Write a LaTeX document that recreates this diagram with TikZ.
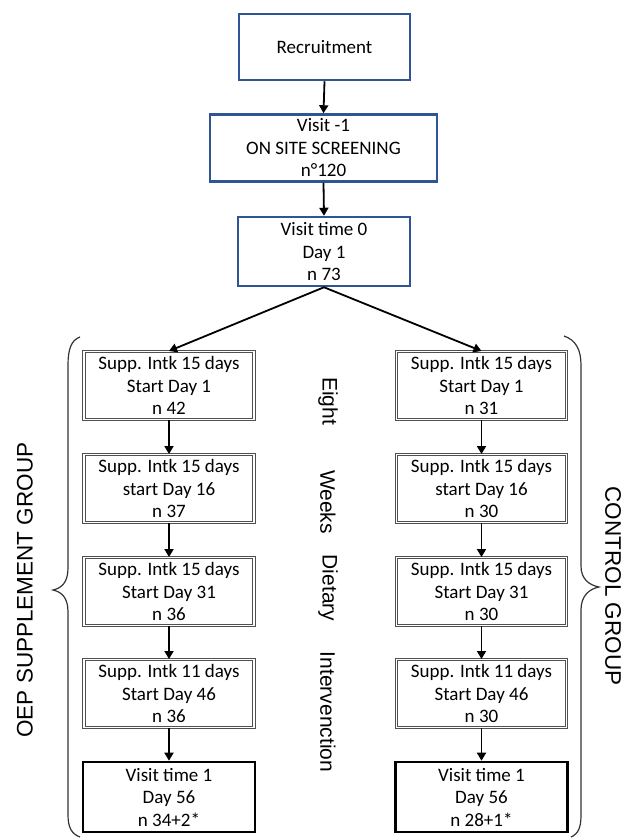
\documentclass[tikz,border=0pt]{standalone}
\usepackage{fontspec}
\setmainfont{Carlito}
\newfontfamily\arialfont{Liberation Sans}
\usetikzlibrary{arrows.meta}
\definecolor{boxblue}{HTML}{2F5597}
\definecolor{dblgray}{HTML}{505050}
\tikzset{
  basebox/.style={rectangle, align=center, inner sep=0pt,
    font=\fontsize{19}{22.5}\selectfont, text=black},
  bluebox/.style={basebox, draw=boxblue, line width=2.5pt},
  suppbox/.style={basebox, draw=dblgray, double=white, double distance=1.4pt,
    line width=1pt, minimum width=170pt, minimum height=68pt},
  visitbox/.style={basebox, draw=black, line width=2.6pt,
    minimum width=172pt, minimum height=70pt},
  conn/.style={draw=black, line width=1.8pt, -{Triangle[length=8pt,width=9pt]}},
  bracestyle/.style={draw=black!80, line width=1.2pt},
  vlabel/.style={font=\arialfont\fontsize{21}{24}\selectfont, inner sep=0pt},
  glabel/.style={font=\arialfont\fontsize{22.5}{26}\selectfont, inner sep=0pt}
}
\begin{document}
\begin{tikzpicture}[x=1pt,y=-1pt]
\useasboundingbox (0,0) rectangle (635,839);

\node[bluebox, minimum width=171pt, minimum height=66pt] (rec) at (324.5,47) {Recruitment};
\node[bluebox, minimum width=227pt, minimum height=67pt] (v1) at (323.5,148) {Visit -1\\ON SITE SCREENING\\n°120};
\node[bluebox, minimum width=172pt, minimum height=69pt] (v0) at (324,251.5) {Visit time 0\\Day 1\\n 73};

\node[suppbox] (l1) at (169,385.5) {Supp. Intk 15 days\\Start Day 1\\n 42};
\node[suppbox] (l2) at (169,488.5) {Supp. Intk 15 days\\start Day 16\\n 37};
\node[suppbox] (l3) at (169,591.5) {Supp. Intk 15 days\\Start Day 31\\n 36};
\node[suppbox] (l4) at (169,693.5) {Supp. Intk 11 days\\Start Day 46\\n 36};
\node[visitbox] (l5) at (169,797) {Visit time 1\\Day 56\\n 34+2*};

\node[suppbox] (r1) at (481.5,385.5) {Supp. Intk 15 days\\Start Day 1\\n 31};
\node[suppbox] (r2) at (481.5,488.5) {Supp. Intk 15 days\\start Day 16\\n 30};
\node[suppbox] (r3) at (481.5,591.5) {Supp. Intk 15 days\\Start Day 31\\n 30};
\node[suppbox] (r4) at (481.5,693.5) {Supp. Intk 11 days\\Start Day 46\\n 30};
\node[visitbox] (r5) at (481.5,797) {Visit time 1\\Day 56\\n 28+1*};

\draw[conn] (rec.south) -- (v1.north);
\draw[conn] (v1.south) -- (v0.north);
\draw[conn] (v0.south) -- (l1.north);
\draw[conn] (v0.south) -- (r1.north);
\draw[conn] (l1) -- (l2);
\draw[conn] (l2) -- (l3);
\draw[conn] (l3) -- (l4);
\draw[conn] (l4) -- (l5);
\draw[conn] (r1) -- (r2);
\draw[conn] (r2) -- (r3);
\draw[conn] (r3) -- (r4);
\draw[conn] (r4) -- (r5);

% braces
\draw[bracestyle] (80,337) .. controls (71,340) and (68,350) .. (68,365) -- (68,568)
  .. controls (68,582) and (62,588) .. (53,590)
  .. controls (62,592) and (68,598) .. (68,612) -- (68,815)
  .. controls (68,828) and (72,834) .. (80,837);
\draw[bracestyle] (564,336) .. controls (576,340) and (581,350) .. (581,365) -- (581,566)
  .. controls (581,579) and (589,585) .. (599,587)
  .. controls (589,589) and (581,596) .. (581,610) -- (581,815)
  .. controls (581,828) and (578,834) .. (571,837);

% middle labels
\node[vlabel, rotate=-90] (t1) at (328,401) {Eight};
\node[vlabel, rotate=-90] (t2) at (328,502) {Weeks};
\node[vlabel, rotate=-90] (t3) at (328,588) {Dietary};
\node[vlabel, rotate=-90] (t4) at (328,712) {Intervenction};

% group labels
\node[glabel, rotate=90] (oep) at (25,590) {OEP SUPPLEMENT GROUP};
\node[glabel, rotate=-90] (ctl) at (613,586) {CONTROL GROUP};
\end{tikzpicture}
\end{document}
